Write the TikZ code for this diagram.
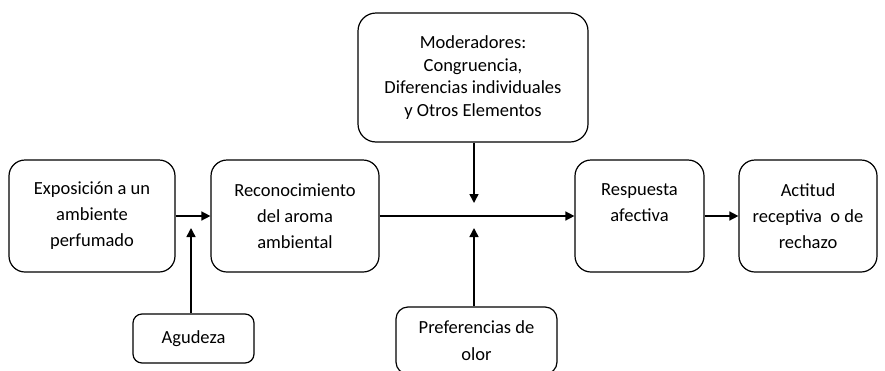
\documentclass[tikz,border=0pt]{standalone}
\usepackage{fontspec}
\setmainfont{Carlito}
\usetikzlibrary{arrows.meta}

\begin{document}
\begin{tikzpicture}[x=1pt, y=-1pt, >={Triangle[length=9pt,width=9pt]},
  etapa/.style={draw, line width=1.2pt, rounded corners=16pt, align=center, minimum height=112pt, inner sep=2pt, font=\fontsize{18.5}{26}\selectfont},
  factor/.style={draw, line width=1.2pt, rounded corners=9pt, align=center, inner sep=2pt, font=\fontsize{18.5}{27}\selectfont},
  flecha/.style={->, line width=1.5pt}]
  \useasboundingbox (0,0) rectangle (885,370);

  % etapas principales
  \node[etapa, minimum width=166pt] (expo) at (92,216) {Exposición a un\\ ambiente\\ perfumado};
  \node[etapa, minimum width=168pt] (recon) at (295,216) {Reconocimiento\\ del aroma\\ ambiental};
  \node[etapa, minimum width=129pt] (resp) at (639.5,216) {Respuesta\\ afectiva\\ \mbox{}};
  \node[etapa, minimum width=138pt] (actitud) at (808,216) {Actitud\\ receptiva~ o de\\ rechazo};

  % factores
  \node[etapa, minimum width=230pt, minimum height=129pt, rounded corners=18pt, font=\fontsize{18.5}{22.7}\selectfont] (moder) at (473,77.5) {Moderadores:\\ Congruencia,\\ Diferencias individuales\\ y Otros Elementos};
  \node[factor, minimum width=121pt, minimum height=49pt] (agudeza) at (193.5,338.5) {Agudeza};
  \node[factor, minimum width=161pt, minimum height=67pt, rounded corners=12pt] (pref) at (476.5,340.5) {Preferencias de\\ olor};

  \coordinate (cruceA) at (191,228);
  \coordinate (cruceB) at (474,203);
  \coordinate (cruceC) at (474,228);

  \draw[flecha] (expo) -- (recon);
  \draw[flecha] (recon) -- (resp);
  \draw[flecha] (resp) -- (actitud);
  \draw[flecha] (agudeza.north -| cruceA) -- (cruceA);
  \draw[flecha] (moder.south -| cruceB) -- (cruceB);
  \draw[flecha] (pref.north -| cruceC) -- (cruceC);
\end{tikzpicture}
\end{document}
